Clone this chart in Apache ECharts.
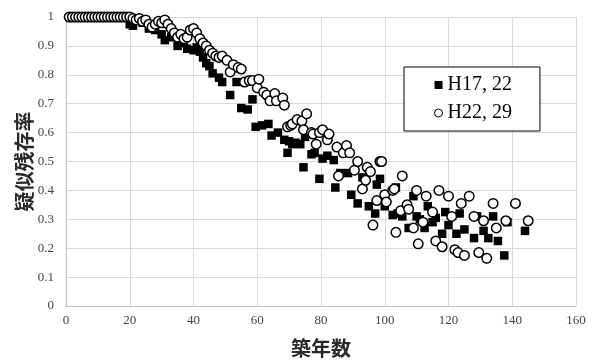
<!DOCTYPE html>
<html>
<head>
<meta charset="utf-8">
<script src="https://cdn.jsdelivr.net/npm/echarts@6/dist/echarts.min.js"></script>
<style>
  html, body { margin: 0; padding: 0; background: #fff; }
  #chart { width: 594px; height: 363px; }
</style>
</head>
<body>
<div id="chart"></div>
<script>
// series names
const seriesNames = ["H17, 22", "H22, 29"];

// H17,22 : filled squares [築年数, 疑似残存率]
const h1722 = [
  [20, 0.975], [21, 0.97], [24, 0.98], [26, 0.96], [28, 0.955], [30, 0.94], [31, 0.92],
  [33, 0.93], [35, 0.9], [37, 0.91], [38, 0.89], [40, 0.885], [41, 0.895], [42, 0.88],
  [43, 0.86], [44, 0.84], [45, 0.83], [46, 0.805], [48, 0.79], [49, 0.775], [51.5, 0.73],
  [53.5, 0.775], [55, 0.685], [57, 0.68], [58.5, 0.715], [59.5, 0.62], [61.5, 0.625],
  [63.5, 0.63], [64.5, 0.59], [66.5, 0.6], [68.5, 0.575], [69.5, 0.53], [70, 0.57],
  [71, 0.56], [72, 0.565], [73.5, 0.56], [74.5, 0.48], [75, 0.585], [77, 0.525], [78, 0.53],
  [79.5, 0.44], [80.5, 0.51], [82, 0.52], [84, 0.505], [84.5, 0.41], [86, 0.46],
  [88.5, 0.46], [89.5, 0.385], [91.5, 0.355], [93, 0.445], [95, 0.345], [97, 0.32],
  [97.5, 0.42], [98.5, 0.44], [100, 0.345], [102.5, 0.315], [103.5, 0.41], [104, 0.32],
  [105.5, 0.31], [107.5, 0.27], [109, 0.38], [110, 0.31], [111, 0.3], [112.5, 0.27],
  [113.5, 0.345], [115, 0.29], [116, 0.305], [118, 0.25], [119, 0.325], [120, 0.28],
  [122.5, 0.25], [123.5, 0.32], [125, 0.265], [128, 0.235], [129, 0.31], [131, 0.26],
  [132.5, 0.235], [134, 0.31], [135.5, 0.225], [137.5, 0.175], [138.5, 0.29], [144, 0.26]
];

// H22,29 : open circles
const h2229 = [
  [1, 1], [2, 1], [3, 1], [4, 1], [5, 1], [6, 1], [7, 1], [8, 1], [9, 1], [10, 1],
  [11, 1], [12, 1], [13, 1], [14, 1], [15, 1], [16, 1], [17, 1], [18, 1], [19, 1],
  [20, 1], [21, 0.995], [22, 0.99], [23, 0.995], [24, 0.985], [25, 0.99], [26, 0.975],
  [27, 0.965], [28, 0.975], [29, 0.985], [30, 0.98], [31, 0.99], [32, 0.975], [33, 0.96],
  [34, 0.945], [35, 0.93], [36, 0.94], [37, 0.925], [38, 0.93], [39, 0.955], [40, 0.96],
  [41, 0.945], [42, 0.925], [43, 0.91], [44, 0.9], [45, 0.885], [46, 0.875], [47, 0.865],
  [48, 0.86], [49, 0.865], [50.5, 0.85], [51.5, 0.81], [52.5, 0.835], [54, 0.825],
  [55, 0.82], [56, 0.775], [57.5, 0.78], [58.5, 0.78], [60, 0.755], [60.5, 0.785],
  [62, 0.74], [63, 0.73], [64, 0.71], [65.5, 0.735], [66, 0.71], [68, 0.72], [68.5, 0.695],
  [69.5, 0.62], [70.5, 0.625], [71, 0.63], [72.5, 0.645], [74, 0.64], [74.5, 0.61],
  [75.5, 0.665], [77, 0.6], [77.5, 0.595], [78.5, 0.56], [79.5, 0.6], [80.5, 0.61],
  [82, 0.575], [82.5, 0.595], [85, 0.55], [85.5, 0.45], [87, 0.53], [88, 0.555],
  [89, 0.53], [90.5, 0.47], [91.5, 0.5], [93, 0.405], [94, 0.435], [94.5, 0.48],
  [95.5, 0.465], [96.3, 0.28], [97.5, 0.365], [98.5, 0.5], [99, 0.5], [100, 0.385],
  [100.5, 0.36], [102.5, 0.4], [103, 0.405], [103.5, 0.255], [105, 0.33], [105.5, 0.45],
  [107, 0.35], [107.5, 0.335], [109, 0.27], [110, 0.4], [110.5, 0.215], [112, 0.29],
  [113, 0.38], [115, 0.325], [116, 0.225], [117, 0.4], [118, 0.205], [120, 0.38],
  [121, 0.31], [122, 0.195], [123, 0.185], [124, 0.355], [125, 0.175], [126.5, 0.38],
  [128, 0.31], [129.5, 0.185], [131, 0.295], [132, 0.165], [134, 0.355], [135, 0.27],
  [138, 0.295], [141, 0.355], [145, 0.295]
];

const xTicks = { min: 0, max: 160, interval: 20 };
const yTicks = { min: 0, max: 1, interval: 0.1 };

const serif = "'Liberation Serif', 'DejaVu Serif', serif";
const cjk = "'Noto Sans CJK JP', sans-serif";

const chart = echarts.init(document.getElementById("chart"), null, { renderer: "canvas" });

chart.setOption({
  animation: false,
  backgroundColor: "#fff",
  grid: { left: 66, right: 18, top: 17, bottom: 51 },
  legend: {
    orient: "vertical",
    left: 404,
    top: 67,
    padding: [8, 28, 8, 30],
    itemGap: 8,
    itemWidth: 8,
    itemHeight: 8,
    borderColor: "#000",
    borderWidth: 1,
    backgroundColor: "#fff",
    textStyle: { fontFamily: serif, fontSize: 20, color: "#000" },
    data: [
      { name: seriesNames[0], icon: "rect", itemStyle: { color: "#000" } },
      { name: seriesNames[1], icon: "circle",
        itemStyle: { color: "#fff", borderColor: "#000", borderWidth: 1 } }
    ]
  },
  xAxis: {
    type: "value",
    min: xTicks.min, max: xTicks.max, interval: xTicks.interval,
    name: "築年数",
    nameLocation: "middle",
    nameGap: 32,
    nameTextStyle: { fontFamily: cjk, fontSize: 20, fontWeight: "bold", color: "#2a2a2a" },
    axisLine: { show: true, lineStyle: { color: "#bfbfbf" } },
    axisTick: { show: false },
    axisLabel: { fontFamily: serif, fontSize: 13, color: "#444", margin: 8 },
    splitLine: { show: true, lineStyle: { color: "#d9d9d9" } }
  },
  yAxis: {
    type: "value",
    min: yTicks.min, max: yTicks.max, interval: yTicks.interval,
    name: "疑似残存率",
    nameLocation: "middle",
    nameGap: 32,
    nameMoveOverlap: false,
    nameTextStyle: { fontFamily: cjk, fontSize: 20, fontWeight: "bold", color: "#2a2a2a" },
    axisLine: { show: true, lineStyle: { color: "#bfbfbf" } },
    axisTick: { show: false },
    axisLabel: { fontFamily: serif, fontSize: 13, color: "#444", margin: 12 },
    splitLine: { show: true, lineStyle: { color: "#d9d9d9" } }
  },
  series: [
    {
      name: seriesNames[0],
      type: "scatter",
      symbol: "rect",
      symbolSize: 8.5,
      itemStyle: { color: "#000", opacity: 1 },
      data: h1722
    },
    {
      name: seriesNames[1],
      type: "scatter",
      symbol: "circle",
      symbolSize: 9.5,
      itemStyle: { color: "#fff", borderColor: "#000", borderWidth: 1.5, opacity: 1 },
      data: h2229
    }
  ]
});
</script>
</body>
</html>
